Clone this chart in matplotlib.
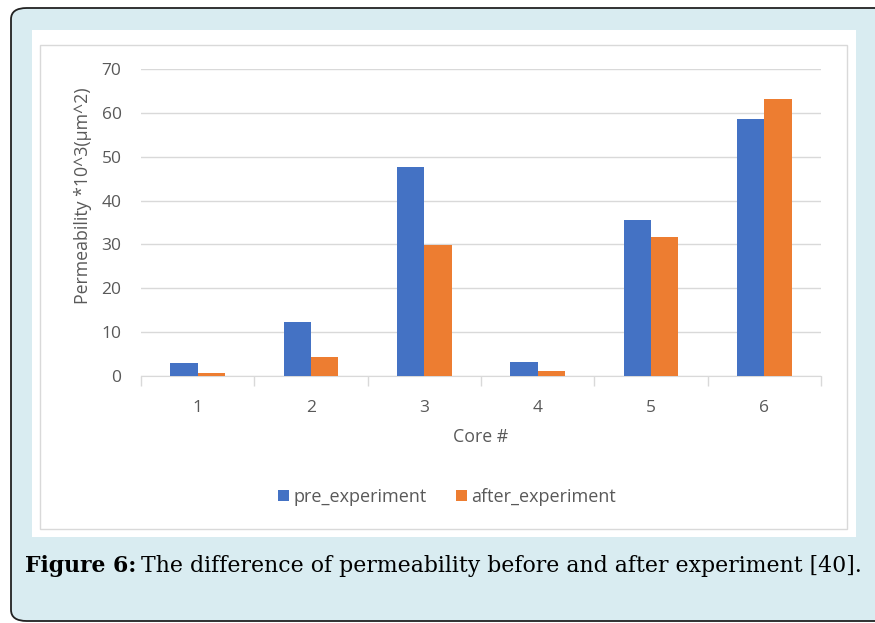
import numpy as np
import matplotlib
matplotlib.use("Agg")
import matplotlib.pyplot as plt
from matplotlib.patches import FancyBboxPatch, Rectangle

# data
cores = ["1", "2", "3", "4", "5", "6"]
pre_experiment = [3.0, 12.4, 47.6, 3.3, 35.5, 58.5]
after_experiment = [0.6, 4.4, 29.9, 1.1, 31.6, 63.2]

blue = "#4472C4"
orange = "#ED7D31"
grey_txt = "#595959"
grid_c = "#d9d9d9"

plt.rcParams['font.family'] = ['Open Sans', 'DejaVu Sans']

W, H = 875, 623
fig = plt.figure(figsize=(W / 100, H / 100), dpi=100)

def px(x0, y0, x1, y1):
    # pixel box (top-left origin) -> figure fraction
    return x0 / W, 1 - y1 / H, (x1 - x0) / W, (y1 - y0) / H

# outer light blue panel with rounded border
x, y, w, h = px(11, 8, 900, 621)
fig.patches.append(FancyBboxPatch((x, y), w, h, boxstyle="round,pad=0,rounding_size=0.018",
                                  transform=fig.transFigure, facecolor="#d9ecf1",
                                  edgecolor="#222222", linewidth=1.3, zorder=0))
# white chart area
x, y, w, h = px(32, 30, 856, 537)
fig.patches.append(Rectangle((x, y), w, h, transform=fig.transFigure,
                             facecolor="white", edgecolor="none", zorder=1))
# thin chart border
x, y, w, h = px(40, 45, 847, 529)
fig.patches.append(Rectangle((x, y), w, h, transform=fig.transFigure,
                             facecolor="none", edgecolor=grid_c, linewidth=1, zorder=2))

ax = fig.add_axes(px(141, 69, 821, 376))
ax.set_zorder(3)
ax.patch.set_alpha(0)

pos = np.arange(len(cores))
bw = 0.24
ax.bar(pos - bw / 2, pre_experiment, bw, color=blue, label="pre_experiment", zorder=3)
ax.bar(pos + bw / 2, after_experiment, bw, color=orange, label="after_experiment", zorder=3)

ax.set_xlim(-0.5, len(cores) - 0.5)
ax.set_ylim(0, 70)
ax.set_yticks(np.arange(0, 71, 10))
ax.set_xticks(pos)
ax.set_xticklabels(cores)
ax.set_xticks(np.arange(-0.5, len(cores), 1), minor=True)
ax.tick_params(axis="x", which="major", length=0, pad=17, labelsize=12.5, labelcolor=grey_txt)
ax.tick_params(axis="x", which="minor", length=7, color=grid_c, width=1)
ax.tick_params(axis="y", length=0, pad=14, labelsize=12.5, labelcolor=grey_txt)

ax.grid(axis="y", color=grid_c, linewidth=1, zorder=0)
for s in ["top", "right", "left"]:
    ax.spines[s].set_visible(False)
ax.spines["bottom"].set_color(grid_c)

ax.set_xlabel("Core #", fontsize=12.8, color=grey_txt, labelpad=9)
ax.set_ylabel("Permeability *10^3(μm^2)", fontsize=12.8, color=grey_txt)
ax.yaxis.set_label_coords(-0.072, 0.586)

ax.legend(loc="upper center", bbox_to_anchor=(0.45, -0.312), ncol=2, frameon=False,
          fontsize=13, labelcolor=grey_txt, handlelength=0.6, handleheight=0.6,
          handletextpad=0.25, columnspacing=1.6)

# caption
cap_y = 1 - 566 / H
t1 = fig.text(25 / W, cap_y, "Figure 6:", fontsize=15.8, fontweight="bold",
              family="DejaVu Serif", va="center", ha="left", color="black")
fig.canvas.draw()
bb = t1.get_window_extent()
fig.text(bb.x1 / W + 5 / W, cap_y,
         "The difference of permeability before and after experiment [40].",
         fontsize=15.8, family="DejaVu Serif", va="center", ha="left", color="black")

fig.savefig("out.png", dpi=100)
